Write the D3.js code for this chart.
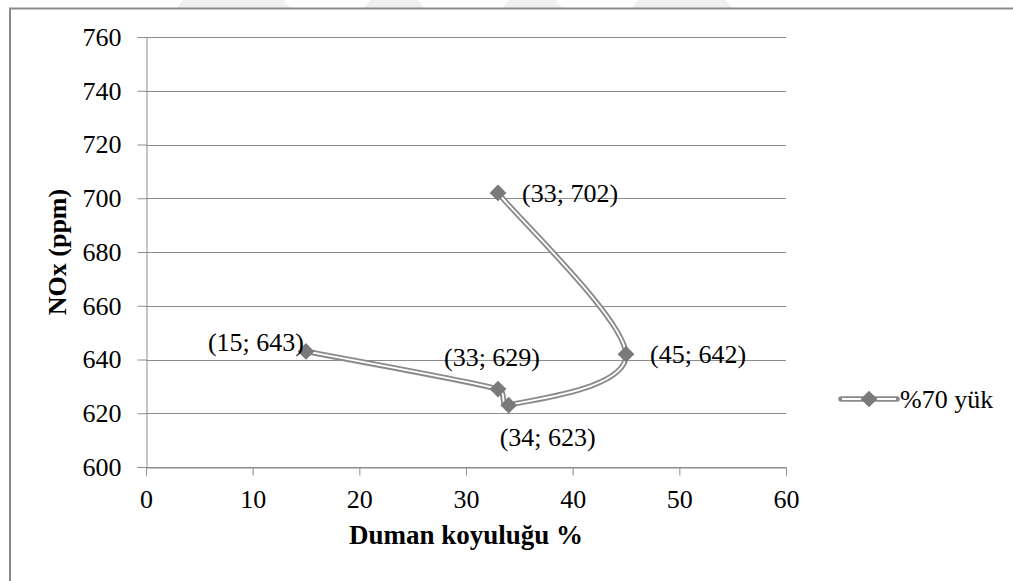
<!DOCTYPE html>
<html>
<head>
<meta charset="utf-8">
<script src="https://cdn.jsdelivr.net/npm/d3@7"></script>
<style>
  body { margin: 0; background: #fff; }
  svg text { font-family: "Liberation Serif", Tinos, "Times New Roman", "DejaVu Serif", serif; fill: #000; }
</style>
</head>
<body>
<div id="chart"></div>
<script>
// series: %70 yük, in drawing order
const seriesName = "%70 yük"
const smokeValues = [15, 33, 34, 45, 33]
const noxValues = [643, 629, 623, 642, 702]

const xTicks = [0, 10, 20, 30, 40, 50, 60]
const yTicks = [600, 620, 640, 660, 680, 700, 720, 740, 760]

const xTitle = "Duman koyuluğu %"
const yTitle = "NOx (ppm)"

// label placement per point: [anchor, dx, dy]
const labelPlace = [
  ["end", -2, -10],
  ["middle", -6, -32],
  ["middle", 39, 32],
  ["start", 24, 0],
  ["start", 24, 0],
]

const width = 1013
const height = 581
const fontFamily = "'Liberation Serif', Tinos, 'Times New Roman', 'DejaVu Serif', serif"

const svg = d3.select("#chart")
  .append("svg")
  .attr("width", width)
  .attr("height", height)

// faint watermark edges above the frame
const marks = [[177, 290], [364, 424], [503, 562], [632, 732]]
svg.append("g")
  .selectAll("path")
  .data(marks)
  .join("path")
  .attr("d", ([a, b]) => `M${a + 6},0 H${b - 6} L${b},8 H${a} Z`)
  .attr("fill", "#f0f0f0")

// outer chart frame (only left and top edges are in view)
svg.append("path")
  .attr("d", "M10,581 V8.5 H1013")
  .attr("fill", "none")
  .attr("stroke", "#8a8a8a")
  .attr("stroke-width", 2)

const x = d3.scaleLinear().domain([0, 60]).range([146, 786])
const y = d3.scaleLinear().domain([600, 760]).range([467, 37])

// gridlines
svg.append("g")
  .selectAll("line")
  .data(yTicks)
  .join("line")
  .attr("x1", x(0))
  .attr("x2", x(60))
  .attr("y1", (d) => Math.round(y(d)) + 0.5)
  .attr("y2", (d) => Math.round(y(d)) + 0.5)
  .attr("stroke", "#8c8c8c")
  .attr("stroke-width", 1)

const axisColor = "#8c8c8c"

function styleAxis(g) {
  g.attr("font-family", fontFamily)
  g.select(".domain").attr("stroke", axisColor)
  g.selectAll(".tick line").attr("stroke", axisColor)
  g.selectAll(".tick text")
    .attr("font-size", 26)
    .attr("fill", "#000")
}

svg.append("g")
  .attr("transform", `translate(0, ${Math.round(y(600)) + 0.5})`)
  .call(d3.axisBottom(x).tickValues(xTicks).tickSize(8).tickPadding(14))
  .call(styleAxis)

svg.append("g")
  .attr("transform", `translate(${x(0) + 0.5}, 0)`)
  .call(d3.axisLeft(y).tickValues(yTicks).tickSize(9).tickPadding(16))
  .call(styleAxis)

// axis titles
svg.append("text")
  .attr("x", 466)
  .attr("y", 544)
  .attr("text-anchor", "middle")
  .attr("font-size", 27)
  .attr("font-weight", "bold")
  .text(xTitle)

svg.append("text")
  .attr("transform", "translate(66, 252) rotate(-90)")
  .attr("text-anchor", "middle")
  .attr("font-size", 26)
  .attr("font-weight", "bold")
  .text(yTitle)

const points = smokeValues.map((v, i) => ({ sx: v, ny: noxValues[i], i }))

// Excel-like smoothing: Catmull-Rom tangents, arms limited on short segments
function smoothPath(pts) {
  const p = pts.map((d) => [x(d.sx), y(d.ny)])
  const n = p.length
  const path = d3.path()
  path.moveTo(p[0][0], p[0][1])
  const dist = (a, b) => Math.hypot(b[0] - a[0], b[1] - a[1])
  const arm = (i) => {
    const a = p[Math.max(i - 1, 0)]
    const b = p[Math.min(i + 1, n - 1)]
    return [(b[0] - a[0]) / 6, (b[1] - a[1]) / 6]
  }
  const clamp = (v, maxLen) => {
    const len = Math.hypot(v[0], v[1])
    if (len <= maxLen || len === 0) return v
    return [v[0] * maxLen / len, v[1] * maxLen / len]
  }
  for (let i = 0; i < n - 1; i++) {
    const seg = dist(p[i], p[i + 1])
    const a1 = clamp(arm(i), seg * 0.5)
    const a2 = clamp(arm(i + 1), seg * 0.5)
    path.bezierCurveTo(
      p[i][0] + a1[0], p[i][1] + a1[1],
      p[i + 1][0] - a2[0], p[i + 1][1] - a2[1],
      p[i + 1][0], p[i + 1][1]
    )
  }
  return path.toString()
}

// double line: gray outer, white core
svg.append("path")
  .datum(points)
  .attr("fill", "none")
  .attr("stroke", "#8a8a8a")
  .attr("stroke-width", 5.5)
  .attr("d", smoothPath)
svg.append("path")
  .datum(points)
  .attr("fill", "none")
  .attr("stroke", "#fff")
  .attr("stroke-width", 1.8)
  .attr("d", smoothPath)

const diamond = d3.symbol().type(d3.symbolSquare).size(140)

svg.append("g")
  .selectAll("path")
  .data(points)
  .join("path")
  .attr("d", diamond)
  .attr("transform", (d) => `translate(${x(d.sx)}, ${y(d.ny)}) rotate(45)`)
  .attr("fill", "#7a7a7a")

// data labels
svg.append("g")
  .selectAll("text")
  .data(points)
  .join("text")
  .attr("x", (d) => x(d.sx) + labelPlace[d.i][1])
  .attr("y", (d) => y(d.ny) + labelPlace[d.i][2])
  .attr("dy", "0.35em")
  .attr("text-anchor", (d) => labelPlace[d.i][0])
  .attr("font-size", 26)
  .text((d) => `(${d.sx}; ${d.ny})`)

// legend
const legend = svg.append("g").attr("transform", "translate(841, 399)")
legend.append("line")
  .attr("x1", 0).attr("x2", 56)
  .attr("stroke", "#8a8a8a")
  .attr("stroke-width", 5.5)
  .attr("stroke-linecap", "round")
legend.append("line")
  .attr("x1", 1).attr("x2", 55)
  .attr("stroke", "#fff")
  .attr("stroke-width", 1.8)
legend.append("path")
  .attr("d", diamond)
  .attr("transform", "translate(28, 0) rotate(45)")
  .attr("fill", "#7a7a7a")
legend.append("text")
  .attr("x", 59)
  .attr("dy", "0.35em")
  .attr("font-size", 26)
  .text(seriesName)
</script>
</body>
</html>
